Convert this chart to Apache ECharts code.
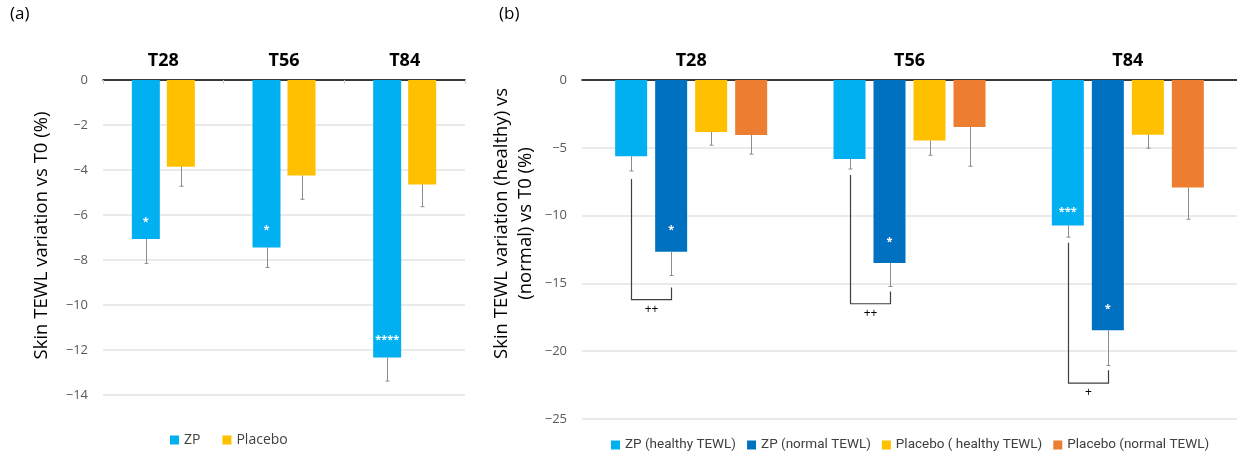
<!DOCTYPE html>
<html>
<head>
<meta charset="utf-8">
<title>Skin TEWL variation</title>
<script src="https://cdn.jsdelivr.net/npm/echarts@6/dist/echarts.min.js"></script>
<style>
  html, body { margin: 0; padding: 0; background: #fff; }
  #chart { width: 1237px; height: 452px; }
</style>
</head>
<body>
<div id="chart"></div>
<script>
// timepoints
const categories = ['T28', 'T56', 'T84']

// panel (a)
const zpA = [-7.07, -7.44, -12.33]
const zpAErr = [1.08, 0.89, 1.05]
const zpAStars = ['*', '*', '****']
const placeboA = [-3.85, -4.24, -4.64]
const placeboAErr = [0.87, 1.06, 0.99]

// panel (b)
const zpHealthy = [-5.62, -5.82, -10.73]
const zpHealthyErr = [1.09, 0.74, 0.86]
const zpHealthyStars = ['', '', '***']
const zpNormal = [-12.67, -13.49, -18.45]
const zpNormalErr = [1.75, 1.74, 2.6]
const zpNormalStars = ['*', '*', '*']
const placeboHealthy = [-3.83, -4.47, -4.03]
const placeboHealthyErr = [0.98, 1.08, 1.0]
const placeboNormal = [-4.05, -3.46, -7.93]
const placeboNormalErr = [1.42, 2.9, 2.34]

// healthy vs normal comparison brackets: left top, right top, bottom
const bracketLeftTop = [-7.3, -7.0, -12.0]
const bracketRightTop = [-15.3, -15.6, -21.4]
const bracketBottom = [-16.2, -16.5, -22.35]
const bracketMarks = ['++', '++', '+']

const C = {
  zp: '#00b0f0',
  zpNormal: '#0070c0',
  placebo: '#ffc000',
  placeboNormal: '#ed7d31',
  err: '#8c8c8c',
  grid: '#e3e3e3',
  tick: '#595959',
  text: '#000',
}
const FONT = '"Open Sans", sans-serif'

const minusFmt = (v) => (v === 0 ? '0' : '\u2212' + Math.abs(v))

const chart = echarts.init(document.getElementById('chart'))

function errorSeries(values, errs, offset, gridIdx) {
  return {
    type: 'custom',
    xAxisIndex: gridIdx,
    yAxisIndex: gridIdx,
    silent: true,
    z: 3,
    data: values.map((v, i) => [i, v, errs[i]]),
    encode: { x: 0, y: 1 },
    renderItem(params, api) {
      const i = api.value(0)
      const v = api.value(1)
      const e = api.value(2)
      const p0 = api.coord([i, v])
      const p1 = api.coord([i, v - e])
      const x = Math.round(p0[0] + offset) + 0.5
      return {
        type: 'group',
        children: [
          { type: 'line', shape: { x1: x, y1: p0[1], x2: x, y2: p1[1] }, style: { stroke: C.err, lineWidth: 1 } },
          { type: 'line', shape: { x1: x - 2, y1: p1[1], x2: x + 2, y2: p1[1] }, style: { stroke: C.err, lineWidth: 1 } },
        ],
      }
    },
  }
}

function barSeries(name, values, color, stars, gridIdx, width, starGap) {
  return {
    name,
    type: 'bar',
    xAxisIndex: gridIdx,
    yAxisIndex: gridIdx,
    data: values,
    barWidth: width,
    barGap: '25%',
    itemStyle: { color },
    label: {
      show: !!stars,
      position: 'insideBottom',
      distance: starGap,
      color: '#fff',
      fontSize: 11,
      fontWeight: 'bold',
      fontFamily: FONT,
      formatter: (p) => (stars ? stars[p.dataIndex] : ''),
    },
  }
}

const bracketSeries = {
  type: 'custom',
  xAxisIndex: 1,
  yAxisIndex: 1,
  silent: true,
  z: 4,
  data: categories.map((c, i) => [i, bracketLeftTop[i], bracketRightTop[i], bracketBottom[i]]),
  encode: { x: 0, y: 3 },
  renderItem(params, api) {
    const i = api.value(0)
    const lt = api.coord([i, api.value(1)])
    const rt = api.coord([i, api.value(2)])
    const bt = api.coord([i, api.value(3)])
    const xl = Math.round(lt[0] - 60) + 0.5
    const xr = Math.round(lt[0] - 20) + 0.5
    const st = { stroke: '#404040', lineWidth: 1.2, fill: null }
    return {
      type: 'group',
      children: [
        { type: 'polyline', shape: { points: [[xl, lt[1]], [xl, bt[1]], [xr, bt[1]], [xr, rt[1]]] }, style: st },
        {
          type: 'text',
          x: (xl + xr) / 2,
          y: bt[1] + 10,
          style: { text: bracketMarks[params.dataIndex], fill: '#000', font: '12px ' + FONT, align: 'center', verticalAlign: 'middle' },
        },
      ],
    }
  },
}

function xAxisFor(gridIdx, ticks) {
  return {
    type: 'category',
    gridIndex: gridIdx,
    position: 'top',
    data: categories,
    axisLine: { lineStyle: { color: '#000', width: 1.5 } },
    axisTick: { show: ticks, inside: true, length: 4, lineStyle: { color: '#d0d0d0' } },
    axisLabel: { color: C.text, fontSize: 18, fontWeight: 'bold', fontFamily: FONT, margin: 10 },
  }
}

function yAxisFor(gridIdx, min, interval, name, nameGap, shiftUp) {
  return {
    type: 'value',
    gridIndex: gridIdx,
    min,
    max: 0,
    interval,
    name,
    nameLocation: 'middle',
    nameGap,
    nameMoveOverlap: false,
    nameTextStyle: { color: C.text, fontSize: 18.5, fontFamily: FONT, lineHeight: 24, padding: [0, 0, 0, shiftUp * 2] },
    axisLine: { show: false },
    axisTick: { show: false },
    axisLabel: { color: C.tick, fontSize: 13, fontFamily: FONT, margin: 15, formatter: minusFmt },
    splitLine: { lineStyle: { color: C.grid, width: 1.5 } },
  }
}

const option = {
  animation: false,
  textStyle: { fontFamily: FONT },
  graphic: [
    { type: 'text', left: 10, top: 6, style: { text: '(a)', font: '17px ' + FONT, fill: '#000' } },
    { type: 'text', left: 499, top: 6, style: { text: '(b)', font: '17px ' + FONT, fill: '#000' } },
  ],
  grid: [
    { left: 103, width: 362, top: 80, height: 315 },
    { left: 582, right: -12, top: 80, height: 339 },
  ],
  legend: [
    {
      data: ['ZP', 'Placebo'],
      left: 165,
      top: 428,
      icon: 'rect',
      itemWidth: 9,
      itemHeight: 9,
      itemGap: 22,
      textStyle: { color: '#404040', fontSize: 14, fontFamily: FONT },
    },
    {
      data: ['ZP (healthy TEWL)', 'ZP (normal TEWL)', 'Placebo ( healthy TEWL)', 'Placebo (normal TEWL)'],
      left: 606,
      top: 433,
      width: 640,
      icon: 'rect',
      itemWidth: 9,
      itemHeight: 9,
      itemGap: 11,
      textStyle: { color: '#404040', fontSize: 13.5, fontFamily: 'Roboto, sans-serif' },
    },
  ],
  xAxis: [xAxisFor(0, true), xAxisFor(1, false)],
  yAxis: [
    yAxisFor(0, -14, 2, 'Skin TEWL variation vs T0 (%)', 49, 2),
    yAxisFor(1, -25, 5, 'Skin TEWL variation (healthy) vs\n(normal) vs T0 (%)', 44, 26),
  ],
  series: [
    barSeries('ZP', zpA, C.zp, zpAStars, 0, 28, 12),
    barSeries('Placebo', placeboA, C.placebo, null, 0, 28, 12),
    errorSeries(zpA, zpAErr, -17.5, 0),
    errorSeries(placeboA, placeboAErr, 17.5, 0),

    barSeries('ZP (healthy TEWL)', zpHealthy, C.zp, zpHealthyStars, 1, 32, 8),
    barSeries('ZP (normal TEWL)', zpNormal, C.zpNormal, zpNormalStars, 1, 32, 16),
    barSeries('Placebo ( healthy TEWL)', placeboHealthy, C.placebo, null, 1, 32, 8),
    barSeries('Placebo (normal TEWL)', placeboNormal, C.placeboNormal, null, 1, 32, 8),
    errorSeries(zpHealthy, zpHealthyErr, -60, 1),
    errorSeries(zpNormal, zpNormalErr, -20, 1),
    errorSeries(placeboHealthy, placeboHealthyErr, 20, 1),
    errorSeries(placeboNormal, placeboNormalErr, 60, 1),
    bracketSeries,
  ],
}

chart.setOption(option)
window.addEventListener('resize', () => chart.resize())
</script>
</body>
</html>
